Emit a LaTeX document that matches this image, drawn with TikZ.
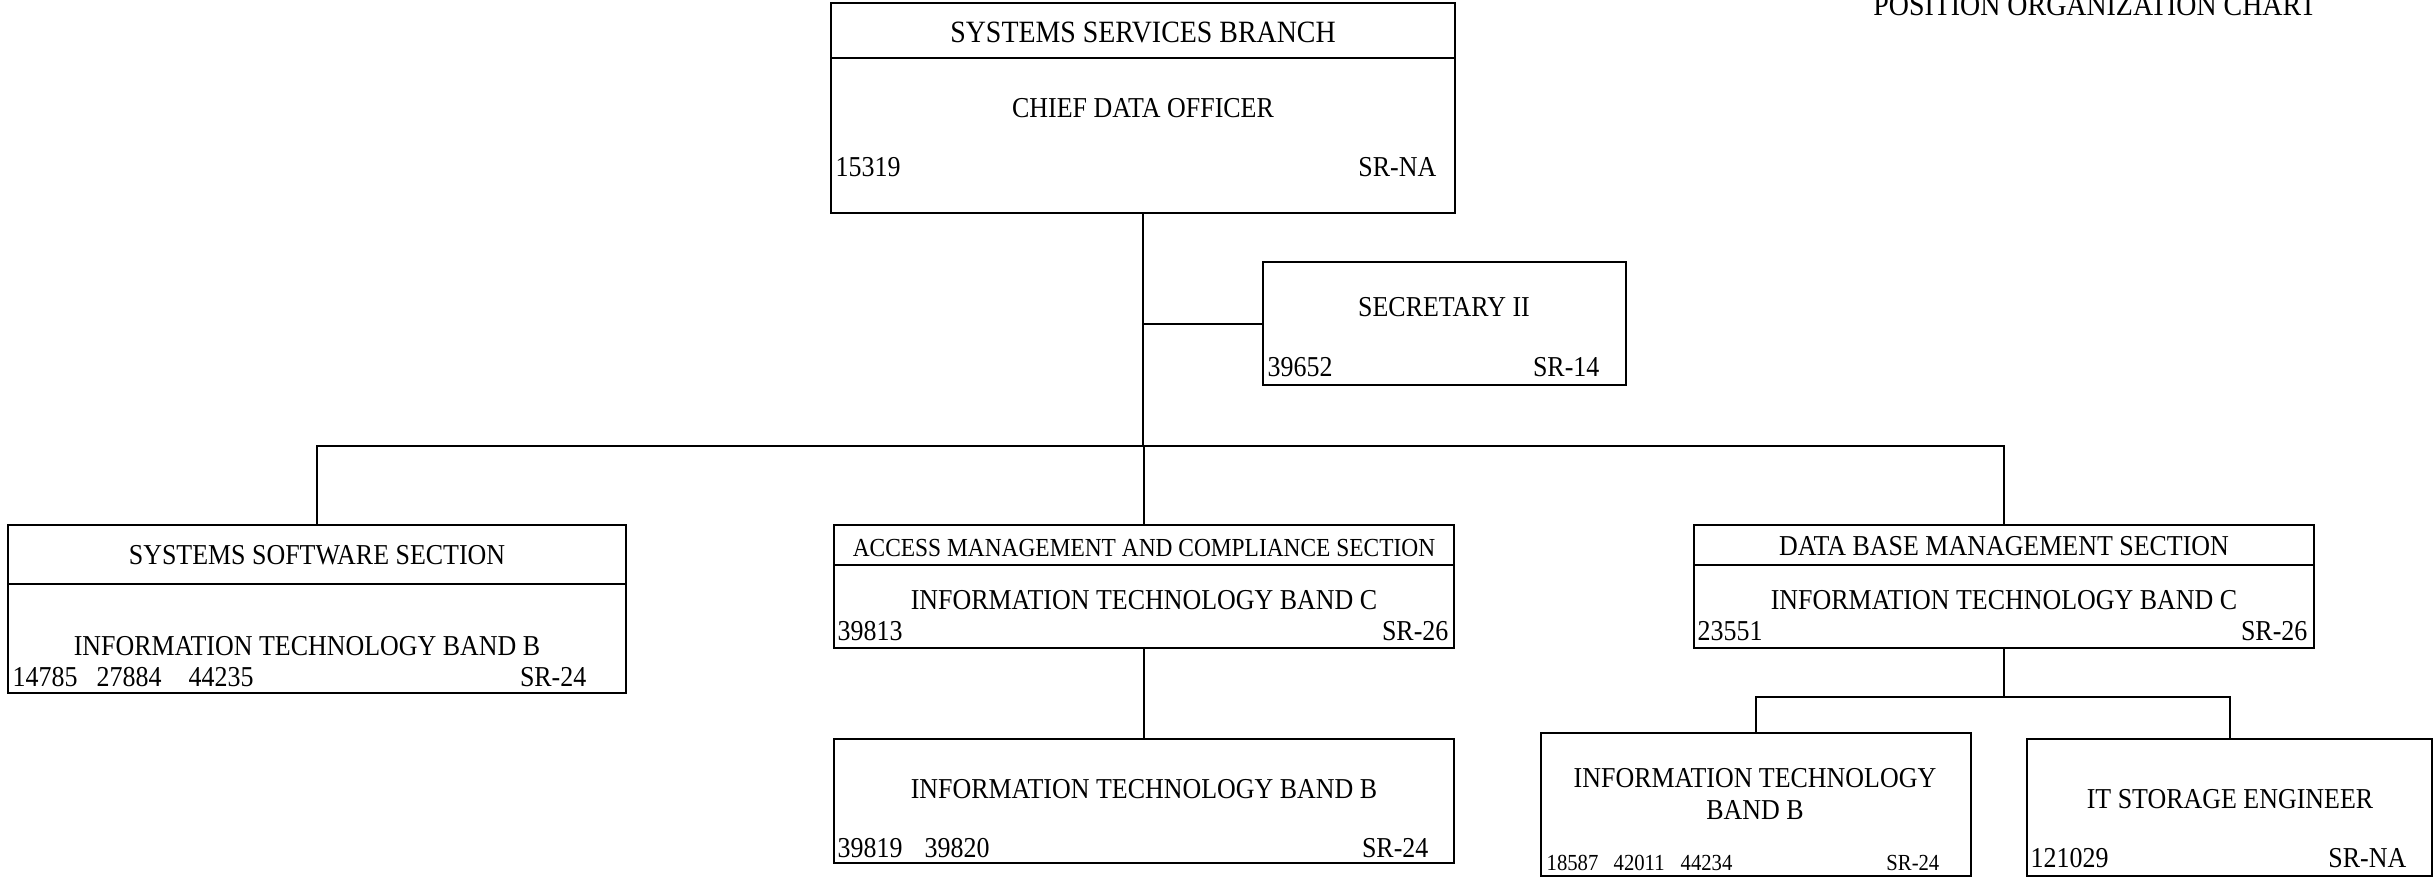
\documentclass[tikz,border=0pt]{standalone}
\usepackage{fontspec}
\setmainfont[FakeStretch=0.9]{Liberation Serif}
\begin{document}
\begin{tikzpicture}[x=0.3pt,y=-0.3pt,
  box/.style={draw, line width=0.6pt, inner sep=0pt},
  ln/.style={line width=0.6pt},
  txt/.style={inner sep=0pt, font=\fontsize{8.65pt}{10pt}\selectfont},
  headtxt/.style={inner sep=0pt, font=\fontsize{9.3pt}{11pt}\selectfont},
  smalltxt/.style={inner sep=0pt, font=\fontsize{7.8pt}{9pt}\selectfont},
  tinytxt/.style={inner sep=0pt, font=\fontsize{6.9pt}{8pt}\selectfont},
  titletxt/.style={inner sep=0pt, font=\fontsize{9.3pt}{11pt}\selectfont}]
\useasboundingbox (0,0) rectangle (2435,878);

% title
\node[titletxt, anchor=base] (title) at (2095,15) {POSITION ORGANIZATION CHART};

% boxes
\node[box, minimum width=187.2pt, minimum height=63pt] (top) at (1143,108) {};
\node[box, minimum width=108.9pt, minimum height=36.9pt] (sec) at (1444.5,323.5) {};
\node[box, minimum width=185.4pt, minimum height=50.4pt] (left) at (317,609) {};
\node[box, minimum width=186pt, minimum height=36.9pt] (mid) at (1144,586.5) {};
\node[box, minimum width=186pt, minimum height=36.9pt] (right) at (2004,586.5) {};
\node[box, minimum width=186pt, minimum height=37.2pt] (low) at (1144,801) {};
\node[box, minimum width=129pt, minimum height=42.9pt] (rb1) at (1756,804.5) {};
\node[box, minimum width=121.5pt, minimum height=41.1pt] (rb2) at (2229.5,807.5) {};

% dividers
\draw[ln] (top.west |- 0,57.5) -- (top.east |- 0,57.5);
\draw[ln] (left.west |- 0,584) -- (left.east |- 0,584);
\draw[ln] (mid.west |- 0,565) -- (mid.east |- 0,565);
\draw[ln] (right.west |- 0,565) -- (right.east |- 0,565);

% connectors
\coordinate (bus) at (1143,446);
\coordinate (bus2) at (2003,697);
\draw[ln] (top.south) -- (top.south |- bus);
\draw[ln] (top.south |- sec.west) -- (sec.west);
\draw[ln] (left.north) -- (left.north |- bus) -- (right.north |- bus) -- (right.north);
\draw[ln] (mid.north |- bus) -- (mid.north);
\draw[ln] (mid.south) -- (low.north);
\draw[ln] (right.south) -- (right.south |- bus2);
\draw[ln] (rb1.north) -- (rb1.north |- bus2) -- (rb2.north |- bus2) -- (rb2.north);

% top box texts
\node[headtxt, anchor=base] (t1) at (1143,42) {SYSTEMS SERVICES BRANCH};
\node[txt, anchor=base] (t2) at (1143,117) {CHIEF DATA OFFICER};
\node[txt, anchor=base west] (t3) at (835,176) {15319};
\node[txt, anchor=base east] (t4) at (1437,176) {SR-NA};

% secretary
\node[txt, anchor=base] (s1) at (1444,316) {SECRETARY II};
\node[txt, anchor=base west] (s2) at (1267,376) {39652};
\node[txt, anchor=base east] (s3) at (1600,376) {SR-14};

% left box
\node[txt, anchor=base] (l1) at (317,564) {SYSTEMS SOFTWARE SECTION};
\node[txt, anchor=base] (l2) at (307,655) {INFORMATION TECHNOLOGY BAND B};
\node[txt, anchor=base west] (l3) at (12,686) {14785};
\node[txt, anchor=base west] (l4) at (96,686) {27884};
\node[txt, anchor=base west] (l5) at (188,686) {44235};
\node[txt, anchor=base east] (l6) at (587,686) {SR-24};

% middle box
\node[smalltxt, anchor=base] (m1) at (1144,556) {ACCESS MANAGEMENT AND COMPLIANCE SECTION};
\node[txt, anchor=base] (m2) at (1144,609) {INFORMATION TECHNOLOGY BAND C};
\node[txt, anchor=base west] (m3) at (837,640) {39813};
\node[txt, anchor=base east] (m4) at (1449,640) {SR-26};

% right box
\node[txt, anchor=base] (r1) at (2004,555) {DATA BASE MANAGEMENT SECTION};
\node[txt, anchor=base] (r2) at (2004,609) {INFORMATION TECHNOLOGY BAND C};
\node[txt, anchor=base west] (r3) at (1697,640) {23551};
\node[txt, anchor=base east] (r4) at (2308,640) {SR-26};

% lower middle
\node[txt, anchor=base] (w1) at (1144,798) {INFORMATION TECHNOLOGY BAND B};
\node[txt, anchor=base west] (w2) at (837,857) {39819};
\node[txt, anchor=base west] (w3) at (924,857) {39820};
\node[txt, anchor=base east] (w4) at (1429,857) {SR-24};

% rb1
\node[txt, anchor=base] (a1) at (1755,787) {INFORMATION TECHNOLOGY};
\node[txt, anchor=base] (a2) at (1755,819) {BAND B};
\node[tinytxt, anchor=base west] (a3) at (1546,870) {18587};
\node[tinytxt, anchor=base west] (a4) at (1613,870) {42011};
\node[tinytxt, anchor=base west] (a5) at (1680,870) {44234};
\node[tinytxt, anchor=base east] (a6) at (1940,870) {SR-24};

% rb2
\node[txt, anchor=base] (b1) at (2230,808) {IT STORAGE ENGINEER};
\node[txt, anchor=base west] (b2) at (2030,867) {121029};
\node[txt, anchor=base east] (b3) at (2407,867) {SR-NA};
\end{tikzpicture}
\end{document}
